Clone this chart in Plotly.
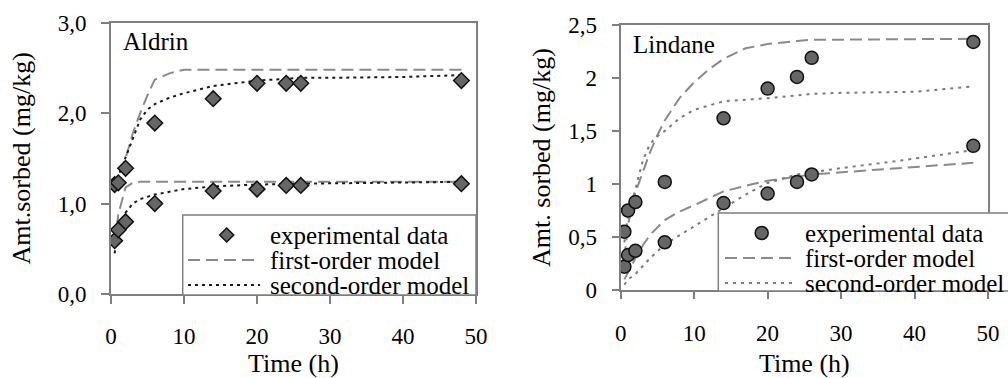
import plotly.graph_objects as go

W, H = 1008, 378
FONT = "Liberation Serif, Times New Roman, Tinos, DejaVu Serif, serif"

# ---------------- data ----------------
t_exp = [0.5, 1, 2, 6, 14, 20, 24, 26, 48]

# Aldrin
ald_hi = [1.21, 1.23, 1.39, 1.89, 2.16, 2.33, 2.33, 2.33, 2.36]
ald_lo = [0.59, 0.71, 0.80, 1.00, 1.14, 1.16, 1.20, 1.20, 1.22]

ald_fo_hi_t = [0.5, 1, 2, 3, 4, 5, 6, 8, 10, 14, 20, 24, 26, 48]
ald_fo_hi_y = [1.15, 1.30, 1.50, 1.78, 2.00, 2.20, 2.37, 2.44, 2.48, 2.48, 2.48, 2.48, 2.48, 2.48]
ald_so_hi_t = [0.5, 1, 2, 3, 4, 5, 6, 8, 10, 14, 20, 24, 26, 30, 40, 48]
ald_so_hi_y = [1.20, 1.30, 1.52, 1.72, 1.93, 2.04, 2.10, 2.17, 2.22, 2.30, 2.36, 2.38, 2.39, 2.39, 2.40, 2.42]
ald_fo_lo_t = [0.5, 1, 2, 3, 4, 6, 10, 14, 20, 24, 26, 48]
ald_fo_lo_y = [0.55, 0.88, 1.18, 1.23, 1.24, 1.24, 1.24, 1.24, 1.24, 1.24, 1.24, 1.24]
ald_so_lo_t = [0.5, 1, 2, 3, 4, 6, 10, 14, 20, 26, 48]
ald_so_lo_y = [0.45, 0.72, 0.90, 1.00, 1.05, 1.10, 1.16, 1.19, 1.21, 1.22, 1.24]

# Lindane
lin_hi = [0.55, 0.75, 0.83, 1.02, 1.62, 1.90, 2.01, 2.19, 2.34]
lin_lo = [0.22, 0.33, 0.37, 0.45, 0.82, 0.91, 1.02, 1.09, 1.36]

lin_fo_hi_t = [0.5, 1, 2, 3, 4, 5, 6, 8, 10, 12, 14, 17, 20, 24, 26, 48]
lin_fo_hi_y = [0.30, 0.62, 0.92, 1.12, 1.30, 1.46, 1.60, 1.81, 1.96, 2.08, 2.18, 2.28, 2.32, 2.35, 2.36, 2.37]
lin_so_hi_t = [0.5, 1, 2, 3, 4, 5, 6, 8, 10, 14, 20, 26, 30, 40, 48]
lin_so_hi_y = [0.45, 0.70, 0.95, 1.22, 1.38, 1.45, 1.50, 1.62, 1.70, 1.78, 1.81, 1.85, 1.86, 1.87, 1.92]
lin_fo_lo_t = [0.5, 1, 2, 3, 4, 6, 8, 10, 14, 18, 20, 26, 34, 48]
lin_fo_lo_y = [0.10, 0.17, 0.30, 0.42, 0.52, 0.66, 0.74, 0.80, 0.93, 1.00, 1.03, 1.09, 1.13, 1.20]
lin_so_lo_t = [0.5, 1, 2, 4, 6, 10, 14, 17, 20, 24, 26, 30, 38, 48]
lin_so_lo_y = [0.05, 0.10, 0.15, 0.30, 0.43, 0.60, 0.77, 0.90, 1.01, 1.09, 1.11, 1.15, 1.22, 1.32]

x_ticks = [0, 10, 20, 30, 40, 50]
x_ticktext = ["0", "10", "20", "30", "40", "50"]
ald_yticks = [0, 1, 2, 3]
ald_yticktext = ["0,0", "1,0", "2,0", "3,0"]
lin_yticks = [0, 0.5, 1, 1.5, 2, 2.5]
lin_yticktext = ["0", "0,5", "1", "1,5", "2", "2,5"]

legend_labels = ["experimental data", "first-order model", "second-order model"]

# ---------------- styles ----------------
GRAY = "#8a8a8a"
FRAME = "#7f7f7f"
MARK_FILL = "#666666"
DASH = "12px,6px"
DOT = "3px,4px"


def px(x):
    return x / W


def py(y):
    return 1 - y / H


fig = go.Figure()


def add_line(xa, ya, t, y, color, dash, width=2):
    fig.add_trace(go.Scatter(x=t, y=y, xaxis=xa, yaxis=ya, mode="lines",
                             line=dict(color=color, dash=dash, width=width),
                             showlegend=False, hoverinfo="skip"))


def add_pts(xa, ya, t, y, symbol, size):
    fig.add_trace(go.Scatter(x=t, y=y, xaxis=xa, yaxis=ya, mode="markers",
                             marker=dict(symbol=symbol, size=size, color=MARK_FILL,
                                         line=dict(color="#111111", width=1.5)),
                             showlegend=False))


# Aldrin panel
add_line("x", "y", ald_fo_hi_t, ald_fo_hi_y, GRAY, DASH)
add_line("x", "y", ald_fo_lo_t, ald_fo_lo_y, GRAY, DASH)
add_line("x", "y", ald_so_hi_t, ald_so_hi_y, "#1a1a1a", DOT)
add_line("x", "y", ald_so_lo_t, ald_so_lo_y, "#1a1a1a", DOT)
add_pts("x", "y", t_exp, ald_hi, "diamond", 12)
add_pts("x", "y", t_exp, ald_lo, "diamond", 12)

# Lindane panel
add_line("x2", "y2", lin_fo_hi_t, lin_fo_hi_y, GRAY, DASH)
add_line("x2", "y2", lin_fo_lo_t, lin_fo_lo_y, GRAY, DASH)
add_line("x2", "y2", lin_so_hi_t, lin_so_hi_y, "#7a7a7a", "3px,5px")
add_line("x2", "y2", lin_so_lo_t, lin_so_lo_y, "#7a7a7a", "3px,5px")
add_pts("x2", "y2", t_exp, lin_hi, "circle", 13)
add_pts("x2", "y2", t_exp, lin_lo, "circle", 13)

axis_common = dict(showline=True, mirror=True, linecolor=FRAME, linewidth=2,
                   ticks="outside", tickcolor=FRAME, tickwidth=1.5,
                   showgrid=False, zeroline=False, automargin=False,
                   tickfont=dict(family=FONT, size=23, color="black"))
title_font = dict(family=FONT, size=26, color="black")

fig.update_layout(
    width=W, height=H,
    margin=dict(l=0, r=0, t=0, b=0),
    paper_bgcolor="white", plot_bgcolor="white",
    showlegend=False,
    font=dict(family=FONT, color="black"),
    xaxis=dict(domain=[px(111), px(476)], range=[0, 50], anchor="y",
               tickvals=x_ticks, ticktext=x_ticktext, ticklen=8,
               ticklabelstandoff=12,
               title=dict(text="Time (h)", font=title_font, standoff=21),
               **axis_common),
    yaxis=dict(domain=[py(294), py(22.7)], range=[0, 3], anchor="x",
               tickvals=ald_yticks, ticktext=ald_yticktext, ticklen=8,
               ticklabelstandoff=10,
               title=dict(text="Amt.sorbed (mg/kg)", font=title_font, standoff=20),
               **axis_common),
    xaxis2=dict(domain=[px(620.7), px(988)], range=[0, 50], anchor="y2",
                tickvals=x_ticks, ticktext=x_ticktext, ticklen=7,
                ticklabelstandoff=14,
                title=dict(text="Time (h)", font=title_font, standoff=23),
                **axis_common),
    yaxis2=dict(domain=[py(290), py(25)], range=[0, 2.5], anchor="x2",
                tickvals=lin_yticks, ticktext=lin_yticktext, ticklen=7,
                ticklabelstandoff=10,
                title=dict(text="Amt. sorbed (mg/kg)", font=title_font, standoff=10),
                **axis_common),
)

ann = []
# panel names
ann.append(dict(text="Aldrin", x=px(121), y=py(41), xref="paper", yref="paper",
                xanchor="left", yanchor="middle", showarrow=False,
                font=dict(family=FONT, size=25)))
ann.append(dict(text="Lindane", x=px(631), y=py(44), xref="paper", yref="paper",
                xanchor="left", yanchor="middle", showarrow=False,
                font=dict(family=FONT, size=25)))

shapes = []


def legend_block(bx0, by0, bx1, by1, tx, rows, sx0, sx1, mx, symbol, so_color, so_dash):
    shapes.append(dict(type="rect", xref="paper", yref="paper",
                       x0=px(bx0), x1=px(bx1), y0=py(by1), y1=py(by0),
                       line=dict(color=FRAME, width=1.5), fillcolor="white", layer="above"))
    for label, ry in zip(legend_labels, rows):
        ann.append(dict(text=label, x=px(tx), y=py(ry), xref="paper", yref="paper",
                        xanchor="left", yanchor="middle", showarrow=False,
                        font=dict(family=FONT, size=25)))
    r = 7
    if symbol == "diamond":
        path = "M{},{} L{},{} L{},{} L{},{} Z".format(
            px(mx - r), py(rows[0]), px(mx), py(rows[0] - r),
            px(mx + r), py(rows[0]), px(mx), py(rows[0] + r))
        shapes.append(dict(type="path", xref="paper", yref="paper", path=path,
                           fillcolor=MARK_FILL, line=dict(color="#111111", width=1.5),
                           layer="above"))
    else:
        rr = 6.5
        shapes.append(dict(type="circle", xref="paper", yref="paper",
                           x0=px(mx - rr), x1=px(mx + rr), y0=py(rows[0] + rr), y1=py(rows[0] - rr),
                           fillcolor=MARK_FILL, line=dict(color="#111111", width=1.5),
                           layer="above"))
    shapes.append(dict(type="line", xref="paper", yref="paper",
                       x0=px(sx0), x1=px(sx1), y0=py(rows[1]), y1=py(rows[1]),
                       line=dict(color=GRAY, width=2, dash=DASH), layer="above"))
    shapes.append(dict(type="line", xref="paper", yref="paper",
                       x0=px(sx0), x1=px(sx1), y0=py(rows[2]), y1=py(rows[2]),
                       line=dict(color=so_color, width=2, dash=so_dash), layer="above"))


legend_block(182.7, 215, 476, 295, 268, [235, 260, 285], 188, 260, 226.7,
             "diamond", "#1a1a1a", DOT)
legend_block(718.3, 213, 1012, 291, 803, [233, 258, 283], 725, 792, 761.7,
             "circle", "#7a7a7a", "3px,5px")

fig.update_layout(annotations=ann, shapes=shapes)

fig.write_html("out.html")
